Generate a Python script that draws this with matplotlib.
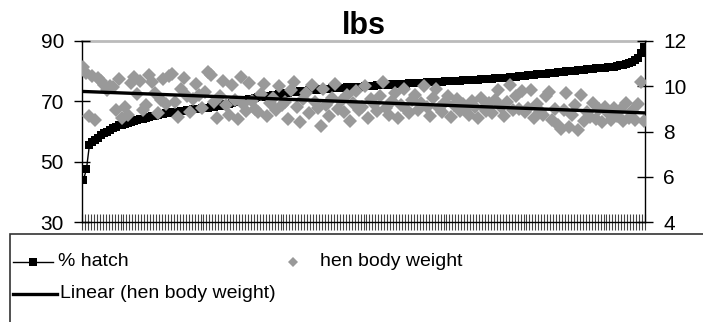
import matplotlib.pyplot as plt
import numpy as np
from matplotlib.lines import Line2D
from matplotlib.patches import Rectangle

plt.rcParams['font.family'] = ['Liberation Sans', 'DejaVu Sans']

# % hatch per flock, sorted ascending (left axis)
hatch = [
    44.0, 47.5, 55.5, 56.5, 57.2, 58.0, 58.8, 59.4, 60.0, 60.5,
    61.0, 61.5, 62.0, 62.3, 62.6, 62.9, 63.2, 63.5, 63.8, 64.0,
    64.3, 64.5, 64.8, 65.0, 65.2, 65.5, 65.7, 65.8, 66.0, 66.2,
    66.3, 66.5, 66.6, 66.8, 66.9, 67.0, 67.1, 67.3, 67.4, 67.5,
    67.7, 67.8, 67.9, 68.0, 68.2, 68.3, 68.5, 68.7, 69.0, 69.2,
    69.5, 69.7, 69.9, 70.1, 70.3, 70.5, 70.7, 70.9, 71.1, 71.3,
    71.5, 71.6, 71.8, 71.9, 72.1, 72.2, 72.4, 72.5, 72.7, 72.8,
    73.0, 73.1, 73.2, 73.3, 73.4, 73.5, 73.6, 73.7, 73.8, 73.9,
    74.0, 74.1, 74.1, 74.2, 74.3, 74.3, 74.4, 74.5, 74.5, 74.6,
    74.7, 74.7, 74.8, 74.9, 74.9, 75.0, 75.1, 75.1, 75.2, 75.3,
    75.3, 75.4, 75.5, 75.5, 75.6, 75.7, 75.7, 75.8, 75.8, 75.9,
    76.0, 76.0, 76.1, 76.1, 76.2, 76.2, 76.3, 76.3, 76.4, 76.4,
    76.5, 76.5, 76.6, 76.7, 76.8, 76.8, 76.9, 76.9, 77.0, 77.0,
    77.1, 77.1, 77.2, 77.2, 77.3, 77.3, 77.4, 77.5, 77.5, 77.6,
    77.6, 77.7, 77.8, 77.9, 78.0, 78.1, 78.2, 78.3, 78.4, 78.5,
    78.6, 78.7, 78.8, 78.9, 79.0, 79.1, 79.2, 79.3, 79.4, 79.5,
    79.6, 79.7, 79.8, 79.9, 80.0, 80.1, 80.2, 80.3, 80.4, 80.5,
    80.6, 80.7, 80.8, 80.9, 81.0, 81.1, 81.2, 81.3, 81.4, 81.5,
    81.7, 81.9, 82.1, 82.4, 82.7, 83.1, 83.6, 84.5, 86.0, 88.0,
]

# hen body weight (lbs) for the same flocks (right axis)
weight = [
    10.85, 10.60, 8.70, 10.45, 8.50, 10.35, 10.25, 10.05, 9.85, 10.00,
    9.95, 8.95, 10.30, 8.60, 9.10, 8.75, 10.15, 10.40, 9.65, 10.25,
    8.95, 9.15, 10.50, 10.20, 9.70, 8.80, 9.40, 10.30, 9.20, 10.45,
    10.55, 9.30, 8.65, 9.90, 10.35, 9.55, 8.85, 9.45, 10.10, 9.60,
    9.05, 9.75, 10.65, 10.50, 9.30, 8.60, 9.55, 10.25, 9.15, 8.75,
    10.05, 9.40, 8.55, 10.40, 9.20, 8.90, 10.15, 9.35, 9.00, 8.85,
    9.65, 10.10, 8.70, 9.25, 9.50, 8.95, 10.00, 9.15, 9.30, 8.55,
    9.85, 10.20, 9.10, 8.40, 9.45, 9.70, 8.80, 10.05, 9.30, 9.05,
    8.25, 9.90, 9.15, 8.70, 9.50, 10.10, 9.00, 9.35, 8.85, 9.60,
    8.45, 9.25, 9.80, 8.95, 9.10, 10.00, 8.60, 9.45, 9.20, 8.90,
    9.55, 10.20, 9.05, 8.75, 9.35, 9.70, 8.60, 9.15, 9.90, 9.00,
    8.80, 9.40, 9.60, 8.95, 9.25, 10.00, 9.10, 8.70, 9.50, 9.90,
    9.05, 8.85, 9.30, 9.55, 8.65, 9.15, 9.45, 8.90, 9.20, 9.00,
    8.75, 9.35, 9.10, 8.60, 9.50, 9.05, 8.90, 9.25, 8.80, 9.40,
    9.85, 9.10, 8.70, 9.30, 10.05, 8.95, 9.55, 9.00, 9.80, 8.85,
    9.05, 9.85, 8.60, 9.20, 8.90, 8.75, 9.55, 9.75, 8.50, 9.00,
    8.30, 8.10, 8.95, 9.70, 8.20, 8.75, 9.15, 8.05, 9.60, 8.45,
    8.85, 8.65, 9.25, 8.55, 9.00, 8.40, 9.10, 8.80, 8.50, 9.05,
    8.70, 8.95, 8.45, 9.25, 8.60, 8.90, 8.50, 9.20, 10.20, 8.45,
]

left_ticks = [30, 50, 70, 90]
right_ticks = [4, 6, 8, 10, 12]

n = len(hatch)
x = np.arange(n) + 0.5

# linear trendline through the weights
slope, icpt = np.polyfit(x, weight, 1)
trend = slope * x + icpt

fig = plt.figure(figsize=(7.03, 3.22), dpi=100)
ax = fig.add_axes([82 / 703, 1 - 222 / 322, 563 / 703, 181 / 322])
ax2 = ax.twinx()

ax.plot(x, hatch, color='black', lw=1, marker='s', markersize=6.4,
        markeredgewidth=0, zorder=3)
ax2.plot(x, weight, linestyle='none', marker='D', markersize=7.4,
         color='#999999', markeredgewidth=0, zorder=3)
ax2.plot(x, trend, color='black', lw=2.4, zorder=4)

ax.set_xlim(0, n)
ax.set_ylim(30, 90)
ax2.set_ylim(4, 12)
ax.axhline(90, color='#bbbbbb', lw=2, zorder=1, clip_on=False)

ax.set_yticks(left_ticks)
ax2.set_yticks(right_ticks)
ax.set_xticks(np.arange(n + 1))
ax.set_xticklabels([])

for s in ['top', 'right', 'bottom']:
    ax.spines[s].set_visible(False)
for s in ['top', 'left', 'bottom']:
    ax2.spines[s].set_visible(False)
ax.spines['left'].set_linewidth(1)
ax2.spines['right'].set_linewidth(1)

ax.axhline(30, color='black', lw=1, zorder=2, clip_on=False)
ax.tick_params(axis='x', direction='inout', length=11, width=0.8,
               color='#444444')
ax.tick_params(axis='y', direction='inout', length=12, width=1,
               labelsize=15, pad=7)
ax2.tick_params(axis='y', direction='inout', length=12, width=1,
                labelsize=15, pad=7)

ax.set_title('lbs', fontsize=22, fontweight='bold', pad=4)

# legend box, open on the right and bottom
fig.patches.append(Rectangle((10 / 703, -0.05), 1.0, 1 - 234 / 322 + 0.05,
                             transform=fig.transFigure, fill=False,
                             edgecolor='#333333', lw=1.2))


def fx(px):
    return px / 703


def fy(py):
    return 1 - py / 322


fig.lines.append(Line2D([fx(13), fx(33), fx(53)], [fy(262)] * 3,
                        transform=fig.transFigure, color='black', lw=1,
                        marker='s', markersize=6, markevery=[1],
                        markeredgewidth=0))
fig.text(fx(58), fy(262), '% hatch', fontsize=14, va='center')

fig.lines.append(Line2D([fx(293)], [fy(262)], transform=fig.transFigure,
                        color='#999999', marker='D', markersize=5,
                        markeredgewidth=0))
fig.text(fx(320), fy(262), 'hen body weight', fontsize=14, va='center')

fig.lines.append(Line2D([fx(13), fx(57)], [fy(294), fy(294)],
                        transform=fig.transFigure, color='black', lw=2.4))
fig.text(fx(60), fy(294), 'Linear (hen body weight)', fontsize=14,
         va='center')

fig.savefig('out.png', dpi=100)
